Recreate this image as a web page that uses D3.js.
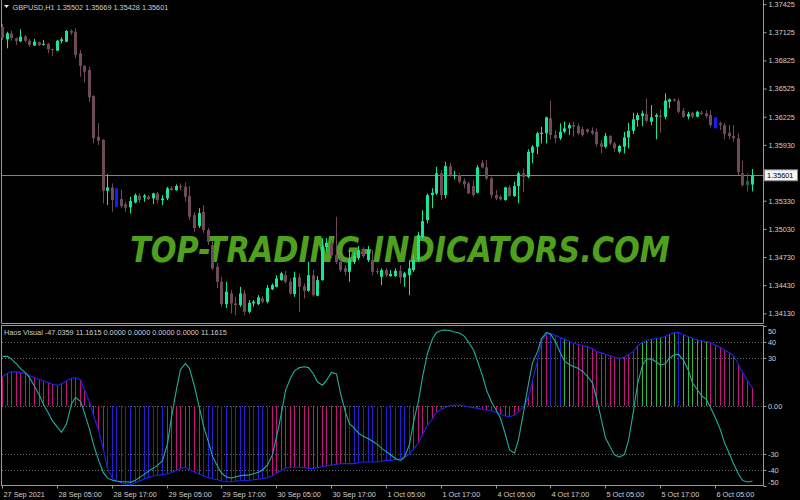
<!DOCTYPE html>
<html><head><meta charset="utf-8">
<script src="https://cdn.jsdelivr.net/npm/d3@7"></script>
<style>html,body{margin:0;padding:0;background:#000;}svg{display:block;}</style>
</head><body>
<svg id="c" width="800" height="500"></svg>
<script>
const symbolHeader = "GBPUSD,H1  1.35502 1.35669 1.35428 1.35601";
const indicatorHeader = "Haos Visual -47.0359 11.1615 0.0000 0.0000 0.0000 0.0000 11.1615";
const watermark = "TOP-TRADING-INDICATORS.COM";
const lastPrice = 1.35601;

const open = [1.37181,1.37050,1.37112,1.37061,1.37027,1.37080,1.37035,1.36984,1.37018,1.36995,
1.37000,1.36947,1.36929,1.37032,1.37024,1.37139,1.37131,1.36901,1.36765,1.36723,
1.36446,1.36012,1.35977,1.35436,1.35472,1.35462,1.35348,1.35291,1.35259,1.35312,
1.35383,1.35366,1.35372,1.35355,1.35408,1.35337,1.35355,1.35462,1.35444,1.35486,
1.35479,1.35380,1.35177,1.35060,1.35209,1.35017,1.34857,1.34626,1.34466,1.34228,
1.34342,1.34236,1.34218,1.34342,1.34146,1.34236,1.34228,1.34289,1.34253,1.34385,
1.34413,1.34484,1.34537,1.34466,1.34335,1.34513,1.34420,1.34370,1.34537,1.34317,
1.34484,1.34836,1.34879,1.34751,1.34679,1.34612,1.34573,1.34676,1.34719,1.34804,
1.34697,1.34697,1.34580,1.34519,1.34591,1.34527,1.34527,1.34583,1.34513,1.34537,
1.34591,1.34697,1.34943,1.35124,1.35390,1.35408,1.35622,1.35390,1.35699,1.35593,
1.35603,1.35540,1.35515,1.35486,1.35415,1.35735,1.35686,1.35568,1.35390,1.35372,
1.35337,1.35472,1.35380,1.35486,1.35622,1.35585,1.35841,1.35905,1.36041,1.36048,
1.36208,1.36030,1.35995,1.36065,1.36101,1.36136,1.36126,1.36091,1.36091,1.36076,
1.36065,1.35941,1.35905,1.36019,1.35941,1.35852,1.35905,1.36005,1.36076,1.36190,
1.36232,1.36254,1.36172,1.36225,1.36232,1.36225,1.36385,1.36410,1.36396,1.36289,
1.36225,1.36268,1.36225,1.36268,1.36261,1.36243,1.36219,1.36155,1.36136,1.36054,
1.36019,1.35995,1.35622,1.35497,1.35502];
const high = [1.37213,1.37131,1.37142,1.37071,1.37157,1.37096,1.37053,1.37053,1.37027,1.37043,
1.37014,1.36952,1.37043,1.37071,1.37149,1.37157,1.37167,1.36936,1.36776,1.36758,
1.36456,1.36158,1.35987,1.35614,1.35515,1.35465,1.35444,1.35319,1.35372,1.35408,
1.35408,1.35401,1.35390,1.35415,1.35425,1.35390,1.35479,1.35486,1.35504,1.35515,
1.35526,1.35486,1.35209,1.35252,1.35284,1.35039,1.34900,1.34665,1.34519,1.34466,
1.34378,1.34306,1.34413,1.34378,1.34271,1.34271,1.34324,1.34314,1.34431,1.34449,
1.34537,1.34573,1.34583,1.34502,1.34573,1.34556,1.34449,1.34679,1.34591,1.34527,
1.34929,1.34932,1.34911,1.35159,1.34719,1.34644,1.34804,1.34783,1.34847,1.34836,
1.34847,1.34804,1.34612,1.34609,1.34612,1.34591,1.34609,1.34644,1.34573,1.34697,
1.34751,1.34999,1.35230,1.35408,1.35462,1.35692,1.35657,1.35745,1.35735,1.35649,
1.35622,1.35568,1.35532,1.35550,1.35710,1.35763,1.35763,1.35585,1.35444,1.35390,
1.35479,1.35497,1.35532,1.35639,1.35675,1.35877,1.35923,1.36065,1.36118,1.36225,
1.36396,1.36083,1.36155,1.36172,1.36161,1.36172,1.36155,1.36118,1.36101,1.36112,
1.36101,1.35977,1.36054,1.36030,1.35958,1.35923,1.36065,1.36161,1.36268,1.36268,
1.36289,1.36421,1.36350,1.36261,1.36304,1.36474,1.36421,1.36421,1.36421,1.36318,
1.36278,1.36278,1.36289,1.36286,1.36296,1.36296,1.36222,1.36172,1.36161,1.36136,
1.36136,1.36048,1.35756,1.35625,1.35669];
const low = [1.37043,1.36954,1.37035,1.36989,1.37021,1.37014,1.36971,1.36979,1.36979,1.36984,
1.36901,1.36872,1.36925,1.37007,1.37021,1.37096,1.36848,1.36651,1.36587,1.36385,
1.35941,1.35923,1.35302,1.35284,1.35212,1.35262,1.35249,1.35212,1.35195,1.35302,
1.35308,1.35319,1.35337,1.35294,1.35308,1.35284,1.35337,1.35433,1.35436,1.35444,
1.35319,1.35124,1.34996,1.35039,1.34985,1.34857,1.34591,1.34399,1.34200,1.34186,
1.34129,1.34111,1.34200,1.34111,1.34129,1.34200,1.34218,1.34239,1.34236,1.34378,
1.34406,1.34477,1.34449,1.34324,1.34306,1.34146,1.34289,1.34360,1.34306,1.34314,
1.34477,1.34783,1.34719,1.34655,1.34569,1.34537,1.34466,1.34655,1.34697,1.34719,
1.34676,1.34537,1.34548,1.34431,1.34516,1.34519,1.34519,1.34449,1.34413,1.34324,
1.34573,1.34679,1.34921,1.35089,1.35249,1.35390,1.35337,1.35355,1.35585,1.35558,
1.35515,1.35462,1.35401,1.35372,1.35408,1.35675,1.35550,1.35355,1.35337,1.35330,
1.35330,1.35372,1.35372,1.35302,1.35425,1.35568,1.35728,1.35827,1.35941,1.35941,
1.35984,1.35941,1.35977,1.36048,1.36030,1.36012,1.36030,1.36012,1.36048,1.36030,
1.35905,1.35835,1.35888,1.35923,1.35852,1.35835,1.35835,1.35888,1.36041,1.36118,
1.36126,1.36161,1.36136,1.35984,1.36054,1.36197,1.36315,1.36385,1.36261,1.36211,
1.36197,1.36208,1.36219,1.36243,1.36208,1.36112,1.36099,1.36083,1.35984,1.35984,
1.35958,1.35603,1.35479,1.35425,1.35428];
const close = [1.37064,1.37114,1.37064,1.37032,1.37078,1.37035,1.36989,1.37024,1.36989,1.37002,
1.36943,1.36936,1.37035,1.37050,1.37139,1.37120,1.36883,1.36765,1.36705,1.36432,
1.35995,1.35969,1.35436,1.35472,1.35337,1.35266,1.35273,1.35255,1.35326,1.35390,
1.35337,1.35383,1.35348,1.35408,1.35337,1.35355,1.35462,1.35444,1.35486,1.35472,
1.35372,1.35159,1.35039,1.35198,1.35017,1.34892,1.34609,1.34466,1.34228,1.34360,
1.34236,1.34218,1.34342,1.34146,1.34242,1.34253,1.34300,1.34253,1.34402,1.34431,
1.34502,1.34556,1.34466,1.34342,1.34513,1.34413,1.34370,1.34537,1.34324,1.34484,
1.34839,1.34882,1.34751,1.34676,1.34591,1.34573,1.34697,1.34740,1.34804,1.34740,
1.34804,1.34573,1.34569,1.34591,1.34537,1.34548,1.34583,1.34513,1.34556,1.34609,
1.34697,1.34964,1.35113,1.35390,1.35415,1.35622,1.35390,1.35699,1.35603,1.35603,
1.35532,1.35504,1.35408,1.35390,1.35686,1.35686,1.35568,1.35390,1.35355,1.35344,
1.35472,1.35380,1.35486,1.35622,1.35585,1.35852,1.35905,1.36048,1.36054,1.36219,
1.36030,1.35995,1.36065,1.36101,1.36136,1.36118,1.36048,1.36030,1.36065,1.36048,
1.35934,1.35905,1.36019,1.35941,1.35888,1.35913,1.36005,1.36076,1.36197,1.36243,
1.36261,1.36182,1.36219,1.36243,1.36225,1.36396,1.36410,1.36396,1.36278,1.36225,
1.36254,1.36225,1.36278,1.36254,1.36232,1.36136,1.36101,1.36136,1.36041,1.36019,
1.35995,1.35635,1.35497,1.35540,1.35601];
const blueCandles = [25, 156];
const dimCandles = [163];

const histValues = [18.3,20.5,21.4,21.3,21.0,20.4,19.0,17.7,16.7,15.6,
14.6,13.6,13.0,13.9,15.6,17.3,17.7,16.4,10.1,2.5,
-5.8,-15.0,-27.5,-39.0,-45.3,-47.0,-48.0,-48.8,-49.4,-48.0,
-46.9,-45.6,-44.6,-43.8,-43.3,-42.9,-42.3,-41.5,-40.2,-39.0,
-38.3,-39.8,-41.3,-42.7,-43.8,-44.8,-45.5,-46.1,-46.9,-47.3,
-47.3,-46.9,-46.7,-46.7,-46.4,-46.1,-45.7,-45.4,-44.8,-43.6,
-42.0,-40.2,-38.9,-38.3,-38.3,-38.3,-38.5,-39,-39,-38.5,
-38,-37.5,-37,-36.5,-36,-36,-36,-36,-35.5,-35,
-35,-35,-35,-34.5,-34,-34,-33.5,-33,-32,-30,
-27,-23,-18,-12,-8,-4,-2,-1,0.5,0.5,
0.5,0,-0.5,-1,-1.5,-2,-2.5,-3,-4,-5.2,
-6.2,-6.7,-5.8,-3.5,-0.5,5.5,15.5,28,40.5,45,
45.2,44,42.7,41.8,40.5,39.2,38.4,37.7,37.1,35.8,
34.1,33.2,32.3,31.3,30.3,29.8,30.6,32.2,34.1,37.5,
39.8,40.9,41.7,42.3,42.7,43.6,44.8,45.7,46,44.5,
43.3,42.3,41.3,40.8,40.3,39.7,38,36.6,35,33.3,
31.5,26,21,16,11.16];
const histColorCodes = "PPPPPPPPPPPPPPPPPPPPPPP" + "BBBBBBBBBBBBB" + "PPPPPPPP" + "BBBBBBBBBBBBBBB" +
  "PPPPPPPPPPPPPPPPP" + "BBBBBBBBBBBBBB" + "PPPPPPPPPPPPPPPPPPPPPPPPPPPPPP" + "BBB" + "GG" +
  "PPPPPPPPPPPPPPP" + "GGGGGGGG" + "B" + "GGGGGG" + "PPPPPPPPPP";
const signalValues = [31,31.1,29.3,26.3,23.4,20.9,17.7,12.3,6.6,0.9,
-4.5,-9.3,-13.4,-16.5,-11.3,1.4,5.3,2.9,-4.3,-14.4,
-24.2,-33.7,-41.8,-45.1,-46.4,-46.9,-47.3,-47.3,-47.7,-46.4,
-44.6,-42.6,-40.7,-38.8,-37.1,-34.2,-23.7,-7,10.5,22.7,
26.6,23.4,12.3,-1.4,-12.6,-22.6,-31.5,-37.6,-41.9,-44.4,
-45.1,-44.2,-43.6,-43.2,-43.1,-42.3,-41.4,-40,-36.8,-30.3,
-19.5,-4.3,9.6,17.3,22,24,24.5,24,20,15,
13,16,21,20,8,-4,-11,-14,-17,-19,
-20.5,-22,-24,-26.5,-28.5,-30.5,-33,-34,-32,-24,
-10,3,18,33,42,46,47.3,47.5,47,46.3,
45.6,43.5,40,35,28,19,10,2.5,-3,-7.7,
-18,-27.5,-29.5,-21,-4,14,27,34,42,46,
45,40.2,33,28,25.8,24.7,23.5,21.6,18.5,14.5,
5,-9,-20,-26,-30.5,-32,-30.2,-21.5,-3,13.5,
25.5,29.5,29.3,27.5,25.5,26.5,30,32,32.3,28.7,
22,14.5,10,6.5,4,-1,-7.5,-15,-23,-30,
-36,-42.5,-46.5,-47.5,-47.04];

const priceTicks = [1.37425,1.37125,1.36825,1.36525,1.36225,1.35925,1.35330,1.35030,1.34730,1.34430,1.34130];
const priceTickLabels = ["1.37425","1.37125","1.36825","1.36525","1.36225","1.35930","1.35330","1.35030","1.34730","1.34430","1.34130"];
const indTicks = [50,40,30,0,-30,-40,-50];
const indTickLabels = ["50","40","30","0.00","-30","-40","-50"];
const gridLevels = [40,30,0,-30,-40];
const timeTickBars = [0,12,24,36,48,60,72,84,96,108,120,132,144,156];
const timeTickLabels = ["27 Sep 2021","28 Sep 05:00","28 Sep 17:00","29 Sep 05:00","29 Sep 17:00","30 Sep 05:00","30 Sep 17:00","1 Oct 05:00","1 Oct 17:00","4 Oct 05:00","4 Oct 17:00","5 Oct 05:00","5 Oct 17:00","6 Oct 05:00"];

const colors = {bull:"#17e69a", bear:"#6e4a5b", blue:"#1a1aff", dim:"#0b6a44",
  P:"#c0157c", B:"#2323d0", G:"#35b447", envelope:"#2020e6", signal:"#1fb09a",
  frame:"#9a9a9a", text:"#cfcfcf", grid:"#6a6a6a", priceLine:"#8a7d84", mark:"#4fa01c"};
const FONT = "Liberation Sans, Arial, sans-serif";

const svg = d3.select("#c");
svg.append("rect").attr("width",800).attr("height",500).attr("fill","#000");

const n = open.length;
const x = d3.scaleLinear().domain([0, n-1]).range([2, 751.5]);
const y = d3.scaleLinear().domain([1.34027, 1.37469]).range([323, 0]);
const yi = d3.scaleLinear().domain([-50, 50]).range([486, 326]);
const px = i => Math.round(x(i));

// watermark (behind candles)
svg.append("text").attr("x",400).attr("y",262).attr("text-anchor","middle")
  .attr("font-family","DejaVu Sans Condensed, DejaVu Sans, sans-serif").attr("font-stretch","condensed")
  .attr("font-weight","bold").attr("font-style","italic")
  .attr("font-size",36).attr("textLength",540).attr("lengthAdjust","spacingAndGlyphs")
  .attr("fill",colors.mark).text(watermark);

// frames
const fr = svg.append("g").attr("fill","none").attr("stroke",colors.frame).attr("stroke-width",1);
fr.append("path").attr("d","M1.5,0 V323.5 H763.5 V0");
fr.append("rect").attr("x",1.5).attr("y",325.5).attr("width",762).attr("height",160);

// last price line
svg.append("line").attr("x1",2).attr("x2",763).attr("y1",Math.round(y(lastPrice))+0.5).attr("y2",Math.round(y(lastPrice))+0.5)
  .attr("stroke",colors.priceLine).attr("stroke-width",1);

// candles
const candleColor = i => blueCandles.includes(i) ? colors.blue : dimCandles.includes(i) ? colors.dim :
  (close[i] >= open[i] ? colors.bull : colors.bear);
const cg = svg.append("g");
const idx = d3.range(n);
cg.selectAll("line.w").data(idx).join("line").attr("class","w")
  .attr("x1",i=>px(i)+0.5).attr("x2",i=>px(i)+0.5)
  .attr("y1",i=>y(high[i])).attr("y2",i=>y(low[i]))
  .attr("stroke",candleColor).attr("stroke-width",1);
cg.selectAll("rect.b").data(idx).join("rect").attr("class","b")
  .attr("x",i=>px(i)-1).attr("width",3)
  .attr("y",i=>Math.min(y(open[i]),y(close[i])))
  .attr("height",i=>Math.max(1,Math.abs(y(open[i])-y(close[i]))))
  .attr("fill",candleColor);

// price axis
const pa = svg.append("g").attr("transform","translate(763.5,0)")
  .call(d3.axisRight(y).tickValues(priceTicks).tickFormat((d,i)=>priceTickLabels[i]).tickSize(3).tickPadding(2));
pa.select(".domain").remove();
pa.selectAll("line").attr("stroke",colors.frame);
pa.selectAll("text").attr("fill",colors.text).attr("font-family",FONT).attr("font-size",7.3);

// last price box
const lpY = y(lastPrice);
svg.append("rect").attr("x",764.5).attr("y",lpY-5.5).attr("width",33).attr("height",11)
  .attr("fill","#f4f4f4").attr("stroke","#888");
svg.append("text").attr("x",767).attr("y",lpY+2.6).attr("font-family",FONT).attr("font-size",7.3)
  .attr("fill","#000").text(d3.format(".5f")(lastPrice));

// headers
svg.append("path").attr("d","M4,5 L9,5 L6.5,8 Z").attr("fill","#e0e0e0");
svg.append("text").attr("x",12.5).attr("y",10).attr("font-family",FONT).attr("font-size",7.3)
  .attr("fill",colors.text).text(symbolHeader);
svg.append("text").attr("x",4).attr("y",335).attr("font-family",FONT).attr("font-size",7.3)
  .attr("fill",colors.text).text(indicatorHeader);

// indicator grid
svg.append("g").selectAll("line").data(gridLevels).join("line")
  .attr("x1",2).attr("x2",763).attr("y1",d=>Math.round(yi(d))+0.5).attr("y2",d=>Math.round(yi(d))+0.5)
  .attr("stroke",colors.grid).attr("stroke-dasharray","1,2").attr("stroke-width",1);

// histogram
const hcol = histColorCodes.split("");
svg.append("g").selectAll("line").data(idx).join("line")
  .attr("x1",i=>px(i)+0.5).attr("x2",i=>px(i)+0.5)
  .attr("y1",yi(0)).attr("y2",i=>yi(histValues[i]))
  .attr("stroke",i=>colors[hcol[i]]).attr("stroke-width",1);

// envelope and signal lines
svg.append("path").datum(idx).attr("fill","none").attr("stroke",colors.envelope).attr("stroke-width",1.1)
  .attr("d",d3.line().x(i=>px(i)+0.5).y(i=>yi(histValues[i])));
svg.append("path").datum(idx).attr("fill","none").attr("stroke",colors.signal).attr("stroke-width",1.1)
  .attr("d",d3.line().x(i=>px(i)+0.5).y(i=>yi(signalValues[i])));

// indicator axis
const ia = svg.append("g");
ia.selectAll("line").data(indTicks).join("line")
  .attr("x1",763.5).attr("x2",766.5).attr("y1",d=>Math.round(yi(d))+0.5).attr("y2",d=>Math.round(yi(d))+0.5)
  .attr("stroke",colors.frame);
ia.selectAll("text").data(indTicks).join("text")
  .attr("x",768).attr("y",d=>Math.max(331, Math.min(482, yi(d)))+2.6)
  .attr("font-family",FONT).attr("font-size",7.3).attr("fill",colors.text)
  .text((d,i)=>indTickLabels[i]);

// time axis
const ta = svg.append("g").attr("transform","translate(0,485.5)")
  .call(d3.axisBottom(x).tickValues(timeTickBars).tickFormat((d,i)=>timeTickLabels[i]).tickSize(3).tickPadding(3));
ta.select(".domain").remove();
ta.selectAll(".tick").attr("transform",d=>`translate(${px(d)+0.5},0)`);
ta.selectAll("line").attr("stroke",colors.frame);
ta.selectAll("text").attr("fill",colors.text).attr("font-family",FONT).attr("font-size",7.3)
  .attr("text-anchor","start").attr("x",1);
</script>
</body></html>
